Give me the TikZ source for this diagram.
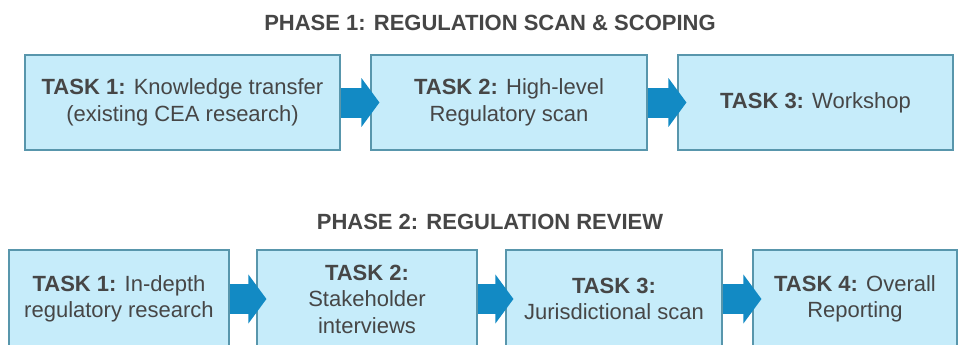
\documentclass[tikz,border=0pt]{standalone}
\usepackage{fontspec}
\setmainfont{Liberation Sans}
\usetikzlibrary{arrows.meta}

\definecolor{boxfill}{RGB}{198,236,250}
\definecolor{boxline}{RGB}{88,150,172}
\definecolor{flowblue}{RGB}{18,138,196}
\definecolor{txtgray}{RGB}{70,70,70}

\begin{document}
\begin{tikzpicture}[x=1pt,y=-1pt]

\tikzset{task/.style = {shape=rectangle,draw=boxline,fill=boxfill,line width=1.1pt,align=center,text=txtgray,inner sep=0pt,font=\fontsize{22}{26.5}\selectfont}}
\tikzset{phase/.style = {text=txtgray,font=\bfseries\fontsize{22}{26}\selectfont}}
\tikzset{flow/.style = {draw=flowblue,line width=30pt,-{Triangle[width=48pt,length=18pt]}}}

\clip (0,0) rectangle (958,345);

% phase 1
\node[phase] (h1) at (490,23) {PHASE 1: REGULATION SCAN \& SCOPING};
\node[task, minimum width=315pt, minimum height=95pt] (a1) at (182.5,102.5) {\textbf{TASK 1:} Knowledge transfer\\(existing CEA research)};
\node[task, minimum width=276pt, minimum height=95pt] (a2) at (509,102.5) {\textbf{TASK 2:} High-level\\Regulatory scan};
\node[task, minimum width=275pt, minimum height=95pt] (a3) at (815.5,102.5) {\textbf{TASK 3:} Workshop};

% phase 2
\node[phase] (h2) at (490,222) {PHASE 2: REGULATION REVIEW};
\node[task, minimum width=220pt, minimum height=98pt] (b1) at (119,299) {\textbf{TASK 1:} In-depth\\regulatory research};
\node[task, minimum width=220pt, minimum height=98pt] (b2) at (367,299) {\textbf{TASK 2:}\\Stakeholder\\interviews};
\node[task, minimum width=216pt, minimum height=98pt] (b3) at (614,299) {\textbf{TASK 3:}\\Jurisdictional scan};
\node[task, minimum width=204pt, minimum height=98pt] (b4) at (855,299) {\textbf{TASK 4:} Overall\\Reporting};

%arrows
\draw[flow] (a1.east) -- ([xshift=9pt]a2.west);
\draw[flow] (a2.east) -- ([xshift=9pt]a3.west);
\draw[flow] (b1.east) -- ([xshift=10pt]b2.west);
\draw[flow] (b2.east) -- ([xshift=8pt]b3.west);
\draw[flow] (b3.east) -- ([xshift=9pt]b4.west);

\end{tikzpicture}
\end{document}
